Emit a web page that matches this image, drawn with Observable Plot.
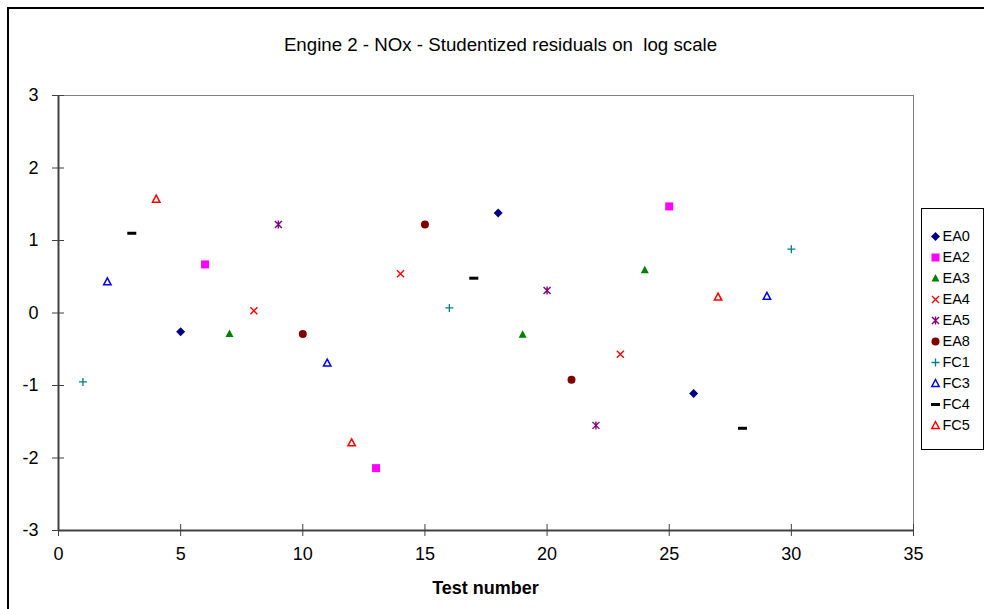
<!DOCTYPE html>
<html>
<head>
<meta charset="utf-8">
<script src="https://cdn.jsdelivr.net/npm/d3@7"></script>
<script src="https://cdn.jsdelivr.net/npm/@observablehq/plot@0.6"></script>
<style>
  html, body { margin: 0; padding: 0; background: #fff; }
  body { width: 984px; height: 609px; overflow: hidden; position: relative; font-family: "Liberation Sans", Arial, sans-serif; color: #000; }
  #frame { position: absolute; left: 7px; top: 7px; width: 1100px; height: 800px; border: 2px solid #000; box-sizing: border-box; }
  #chart { position: absolute; left: 0; top: 0; }
  #title { position: absolute; left: 0; width: 1001px; top: 35px; text-align: center; font-size: 18.7px; line-height: 19px; white-space: pre; }
  #xlabel { position: absolute; left: 0; width: 971px; top: 579px; text-align: center; font-size: 18px; line-height: 18px; font-weight: bold; }
  #legend { position: absolute; left: 921px; top: 208px; width: 63px; height: 242px; border: 1px solid #000; box-sizing: border-box; background: #fff; }
  #legend svg { display: block; }
</style>
</head>
<body>
<div id="frame"></div>
<div id="chart"></div>
<div id="title">Engine 2 - NOx - Studentized residuals on  log scale</div>
<div id="xlabel">Test number</div>
<div id="legend"></div>
<script>
// ---- Data ----
const seriesNames = ["EA0", "EA2", "EA3", "EA4", "EA5", "EA8", "FC1", "FC3", "FC4", "FC5"];
const testNumbers = [1, 2, 3, 4, 5, 6, 7, 8, 9, 10, 11, 12, 13, 14, 15, 16, 17, 18, 19, 20, 21, 22, 23, 24, 25, 26, 27, 28, 29, 30];
const testSeries = ["FC1", "FC3", "FC4", "FC5", "EA0", "EA2", "EA3", "EA4", "EA5", "EA8",
                    "FC3", "FC5", "EA2", "EA4", "EA8", "FC1", "FC4", "EA0", "EA3", "EA5",
                    "EA8", "EA5", "EA4", "EA3", "EA2", "EA0", "FC5", "FC4", "FC3", "FC1"];
const residuals = [-0.95, 0.43, 1.10, 1.57, -0.26, 0.67, -0.29, 0.03, 1.22, -0.29,
                   -0.69, -1.79, -2.14, 0.54, 1.22, 0.07, 0.48, 1.38, -0.30, 0.31,
                   -0.92, -1.55, -0.57, 0.59, 1.47, -1.11, 0.22, -1.59, 0.23, 0.88];
const xTicks = [0, 5, 10, 15, 20, 25, 30, 35];
const yTicks = [-3, -2, -1, 0, 1, 2, 3];

const rows = testNumbers.map((t, i) => ({test: t, series: testSeries[i], residual: residuals[i]}));

// ---- Marker shapes (Excel-like) ----
const shapes = {
  diamond: {draw(c) { c.moveTo(0, -4.5); c.lineTo(4.5, 0); c.lineTo(0, 4.5); c.lineTo(-4.5, 0); c.closePath(); }},
  square: {draw(c) { c.rect(-4, -4, 8, 8); }},
  triangle: {draw(c) { c.moveTo(0, -4.5); c.lineTo(4, 3); c.lineTo(-4, 3); c.closePath(); }},
  times: {draw(c) { c.moveTo(-3.5, -3.5); c.lineTo(3.5, 3.5); c.moveTo(-3.5, 3.5); c.lineTo(3.5, -3.5); }},
  star: {draw(c) { c.moveTo(-3.5, -3.5); c.lineTo(3.5, 3.5); c.moveTo(-3.5, 3.5); c.lineTo(3.5, -3.5); c.moveTo(0, -4); c.lineTo(0, 4); }},
  circle: {draw(c) { c.moveTo(4, 0); c.arc(0, 0, 4, 0, 2 * Math.PI); }},
  plus: {draw(c) { c.moveTo(-4, 0); c.lineTo(4, 0); c.moveTo(0, -4); c.lineTo(0, 4); }},
  openTriangle: {draw(c) { c.moveTo(0, -4); c.lineTo(3.7, 3); c.lineTo(-3.7, 3); c.closePath(); }},
  dash: {draw(c) { c.rect(-4.5, -1.5, 9, 3); }}
};
const styleOf = {
  EA0: {symbol: shapes.diamond, fill: "#000080", stroke: "none"},
  EA2: {symbol: shapes.square, fill: "#FF00FF", stroke: "none"},
  EA3: {symbol: shapes.triangle, fill: "#008000", stroke: "none"},
  EA4: {symbol: shapes.times, fill: "none", stroke: "#FF0000", strokeWidth: 1.4},
  EA5: {symbol: shapes.star, fill: "none", stroke: "#800080", strokeWidth: 1.4},
  EA8: {symbol: shapes.circle, fill: "#800000", stroke: "none"},
  FC1: {symbol: shapes.plus, fill: "none", stroke: "#008080", strokeWidth: 1.3},
  FC3: {symbol: shapes.openTriangle, fill: "none", stroke: "#0000FF", strokeWidth: 1.5},
  FC4: {symbol: shapes.dash, fill: "#000000", stroke: "none"},
  FC5: {symbol: shapes.openTriangle, fill: "none", stroke: "#FF0000", strokeWidth: 1.5}
};

const font = "'Liberation Sans', Arial, sans-serif";
const plain = d => String(d);

const chart = Plot.plot({
  width: 984,
  height: 609,
  marginLeft: 58,
  marginRight: 71,
  marginTop: 95,
  marginBottom: 79,
  style: {fontFamily: font, fontSize: "18px", color: "#000", background: "transparent", overflow: "visible"},
  x: {domain: [0, 35], label: null},
  y: {domain: [-3, 3], label: null},
  marks: [
    Plot.frame({stroke: "#808080", strokeWidth: 1}),
    Plot.ruleX([0], {stroke: "#404040", strokeWidth: 2}),
    Plot.ruleY([-3], {stroke: "#404040", strokeWidth: 2}),
    Plot.axisX(xTicks, {tickSize: 6, tickPadding: 11, stroke: "#404040", tickFormat: plain, label: null}),
    Plot.axisX(xTicks, {tickSize: 6, dy: -6, stroke: "#404040", tickFormat: () => "", label: null}),
    Plot.axisY(yTicks, {tickSize: 6, tickPadding: 14, stroke: "#404040", tickFormat: plain, label: null}),
    Plot.axisY(yTicks, {tickSize: 6, dx: 6, stroke: "#404040", tickFormat: () => "", label: null}),
    ...seriesNames.map(s => Plot.dot(rows.filter(d => d.series === s), {
      x: "test", y: "residual", r: 4, ...styleOf[s]
    }))
  ]
});
document.getElementById("chart").appendChild(chart);

const legend = Plot.plot({
  width: 61,
  height: 240,
  marginTop: 0, marginBottom: 0, marginRight: 0,
  marginLeft: 13,
  style: {fontFamily: font, fontSize: "14.5px", color: "#000", background: "transparent", overflow: "visible"},
  y: {type: "point", domain: seriesNames, range: [13, 229], axis: null},
  marks: [
    ...seriesNames.map(s => Plot.dot([s], {y: d => d, frameAnchor: "left", r: 4, ...styleOf[s]})),
    Plot.text(seriesNames, {y: d => d, text: d => d, frameAnchor: "left", dx: 7, textAnchor: "start", fill: "#000"})
  ]
});
document.getElementById("legend").appendChild(legend);
</script>
</body>
</html>
